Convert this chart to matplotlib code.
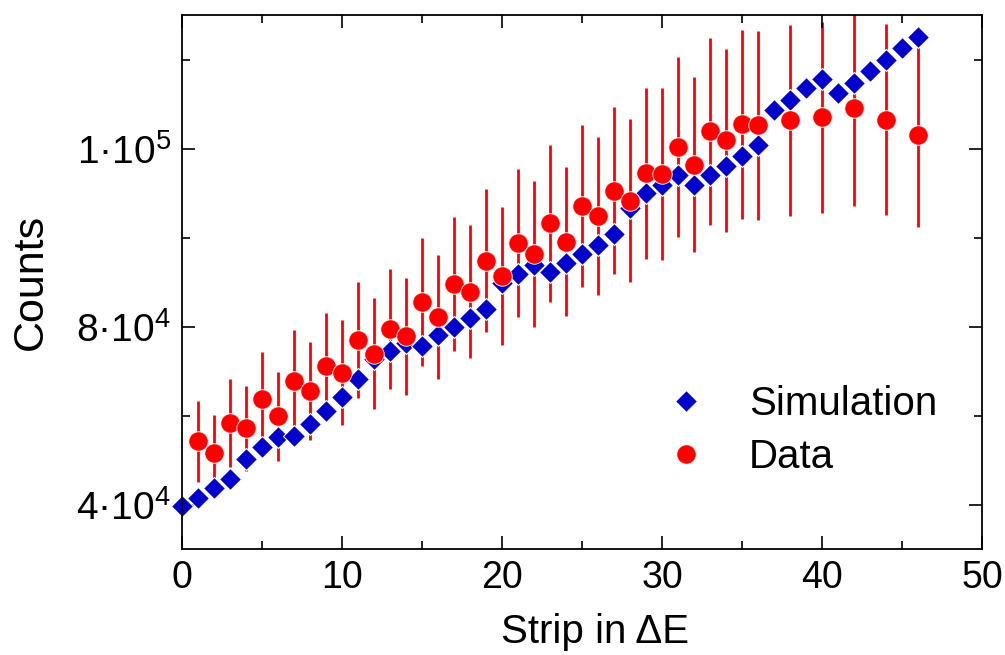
import matplotlib
matplotlib.use("Agg")
import matplotlib.pyplot as plt
from matplotlib.ticker import FixedLocator, FixedFormatter

plt.rcParams["font.family"] = ["Liberation Sans", "DejaVu Sans"]
plt.rcParams["mathtext.fontset"] = "custom"
plt.rcParams["mathtext.rm"] = "Liberation Sans"
plt.rcParams["mathtext.default"] = "regular"

# Simulated counts per strip (strips 0..46)
sim_strip = list(range(47))
sim_counts = [
    39600, 41500, 43700, 45800, 50300, 52900, 55100, 55400, 58100, 61100,
    64100, 68200, 72700, 74600, 76400, 75600, 78100, 80000, 81900, 83900,
    89700, 91900, 93800, 92300, 94200, 96400, 98400, 100800, 106600, 109900,
    111900, 114100, 111800, 114000, 116100, 118400, 120800, 128700, 131000, 133500,
    135600, 132500, 134800, 137400, 140000, 142500, 145100,
]

# Measured counts with statistical uncertainties
data_strip = list(range(1, 37)) + [38, 40, 42, 44, 46]
data_counts = [
    54200, 51600, 58300, 57100, 63600, 59800, 67700, 65500, 71100, 69600,
    77000, 73900, 79500, 77800, 85600, 82100, 89500, 87800, 94800, 91400,
    98800, 96300, 103200, 99100, 107100, 104800, 110500, 108300, 114400, 114200,
    120300, 116400, 123900, 121800, 125400, 125200,
    126300, 127000, 129000, 126500, 123100,
]
data_err = [
    9170, 8600, 9800, 9600, 10600, 10000, 11500, 11000, 12000, 11800,
    13100, 12500, 13500, 13100, 14400, 13900, 15100, 14900, 16100, 15500,
    16700, 16300, 17600, 16800, 18200, 17800, 18800, 18400, 19300, 19300,
    20200, 19700, 21000, 20600, 21300, 21200,
    21400, 21500, 22000, 21400, 20800,
]

x_ticks = [0, 10, 20, 30, 40, 50]
x_minor = [5, 15, 25, 35, 45]
y_ticks = [40000, 80000, 120000]
y_ticklabels = ["4·10$^4$", "8·10$^4$", "1·10$^5$"]
y_minor = [60000, 100000, 140000]

fig = plt.figure(figsize=(10.05, 6.55), dpi=100)
ax = fig.add_axes([182 / 1005, 1 - 549 / 655, 800 / 1005, 534 / 655])

ax.errorbar(data_strip, data_counts, yerr=data_err, fmt="none",
            ecolor="#ff0000", elinewidth=2.0, capsize=0, zorder=1)
ax.plot(sim_strip, sim_counts, linestyle="none", marker="D", markersize=11.2,
        color="#0000cc", markeredgecolor="white", markeredgewidth=0.8,
        label="Simulation", zorder=2, clip_on=False)
ax.plot(data_strip, data_counts, linestyle="none", marker="o", markersize=14,
        color="#ff0000", markeredgecolor="white", markeredgewidth=0.6,
        label="Data", zorder=3)

ax.set_xlim(0, 50)
ax.set_ylim(30000, 150000)

ax.xaxis.set_major_locator(FixedLocator(x_ticks))
ax.xaxis.set_minor_locator(FixedLocator(x_minor))
ax.yaxis.set_major_locator(FixedLocator(y_ticks))
ax.yaxis.set_major_formatter(FixedFormatter(y_ticklabels))
ax.yaxis.set_minor_locator(FixedLocator(y_minor))

ax.tick_params(which="both", direction="in", top=True, right=True, width=1.2)
ax.tick_params(which="major", length=9.4, pad=8)
ax.tick_params(which="minor", length=5.5)
ax.tick_params(axis="x", labelsize=27)
ax.tick_params(axis="y", labelsize=28)
for s in ax.spines.values():
    s.set_linewidth(1.3)

ax.set_xlabel("Strip in ΔE", fontsize=29, labelpad=12)
ax.xaxis.label.set_x(0.516)
ax.set_ylabel("Counts", fontsize=31, labelpad=18)

leg = ax.legend(loc="upper left", bbox_to_anchor=(0.585, 0.337), frameon=False,
                fontsize=29, handletextpad=1.05, labelspacing=0.38,
                borderaxespad=0, handlelength=1.0)

fig.savefig("out.png", dpi=100)
